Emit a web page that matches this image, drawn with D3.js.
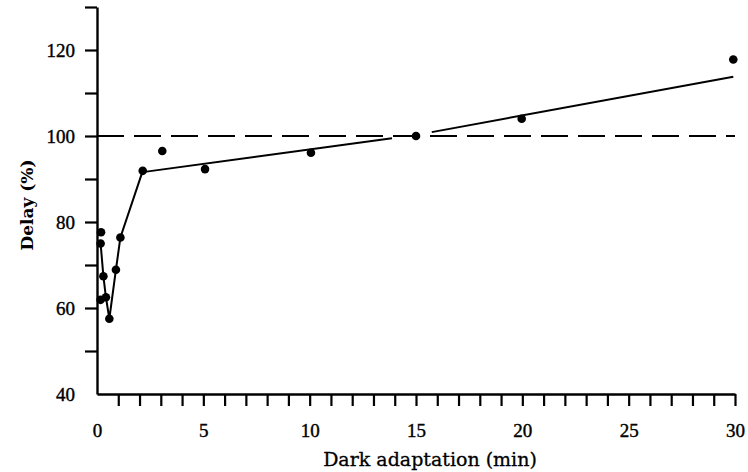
<!DOCTYPE html>
<html>
<head>
<meta charset="utf-8">
<script src="https://cdn.jsdelivr.net/npm/d3@7"></script>
<style>
  html, body { margin: 0; padding: 0; background: #fff; }
  svg { display: block; }
</style>
</head>
<body>
<svg id="chart" width="748" height="472"></svg>
<script>
// ---- data ----
const times  = [0.19, 0.17, 0.30, 0.17, 0.42, 0.58, 0.89, 1.10, 2.15, 3.07, 5.08, 10.06, 15.0, 19.97, 29.92];
const delays = [77.6, 75.0, 67.4, 61.9, 62.5, 57.5, 68.9, 76.4, 91.9, 96.5, 92.3, 96.1, 100.0, 104.0, 117.8];
// early points joined by a line (indices into the arrays above)
const joinedIdx = [1, 2, 4, 5, 6, 7, 8];
// fitted straight lines [time, delay]
const fitLine1 = [[2.15, 91.6], [13.87, 99.5]];
const fitLine2 = [[15.74, 100.9], [29.92, 113.8]];
const referenceLevel = 100;
const xTicks = d3.range(0, 31, 1);
const xTickLabels = [0, 5, 10, 15, 20, 25, 30];
const yTicks = d3.range(40, 131, 10);
const yTickLabels = [40, 60, 80, 100, 120];
const xTitle = "Dark adaptation (min)";
const yTitle = "Delay (%)";

// ---- layout ----
const svg = d3.select("#chart");
const x = d3.scaleLinear().domain([0, 30]).range([97, 735]);
const y = d3.scaleLinear().domain([40, 130]).range([394, 7]);
const ink = "#000";

// ---- axes ----
const gx = svg.append("g").attr("transform", `translate(0,${y(40)})`)
  .call(d3.axisBottom(x).tickValues(xTicks).tickSize(12).tickPadding(18).tickSizeOuter(0)
    .tickFormat(d => xTickLabels.includes(d) ? d : ""));
const gy = svg.append("g").attr("transform", `translate(${x(0)},0)`)
  .call(d3.axisLeft(y).tickValues(yTicks).tickSize(12).tickPadding(10).tickSizeOuter(0)
    .tickFormat(d => yTickLabels.includes(d) ? d : ""));

[gx, gy].forEach(g => {
  g.select(".domain").attr("stroke", ink).attr("stroke-width", 2.4);
  g.selectAll(".tick line").attr("stroke", ink).attr("stroke-width", 2.2);
  g.selectAll(".tick text").attr("fill", ink)
    .attr("stroke", ink).attr("stroke-width", 0.4)
    .style("font-family", "'Liberation Serif', 'Times New Roman', serif")
    .style("font-size", "19px");
});
gx.selectAll(".tick").filter(d => d === 0).select("line").remove();
gy.selectAll(".tick").filter(d => d === 40).select("line").remove();

// ---- axis titles ----
svg.append("text")
  .attr("x", 430).attr("y", 466)
  .attr("text-anchor", "middle")
  .style("font-family", "'DejaVu Serif', serif")
  .style("font-size", "19px")
  .attr("fill", ink).attr("stroke", ink).attr("stroke-width", 0.3)
  .text(xTitle);

svg.append("text")
  .attr("transform", "translate(33,205) rotate(-90)")
  .attr("text-anchor", "middle")
  .style("font-family", "'DejaVu Serif', serif")
  .style("font-weight", "bold")
  .style("font-size", "17px")
  .attr("fill", ink)
  .text(yTitle);

// ---- reference dashed line ----
svg.append("line")
  .attr("x1", x(0)).attr("x2", x(30))
  .attr("y1", y(referenceLevel)).attr("y2", y(referenceLevel))
  .attr("stroke", ink).attr("stroke-width", 2.2)
  .attr("stroke-dasharray", "27,10");

// ---- lines ----
const line = d3.line().x(d => x(d[0])).y(d => y(d[1]));
const joined = joinedIdx.map(i => [times[i], delays[i]]);
svg.append("path").datum(joined).attr("d", line)
  .attr("fill", "none").attr("stroke", ink).attr("stroke-width", 2);
[fitLine1, fitLine2].forEach(seg => {
  svg.append("path").datum(seg).attr("d", line)
    .attr("fill", "none").attr("stroke", ink).attr("stroke-width", 2);
});

// ---- points ----
svg.append("g").selectAll("circle")
  .data(times.map((t, i) => [t, delays[i]]))
  .join("circle")
  .attr("cx", d => x(d[0])).attr("cy", d => y(d[1]))
  .attr("r", 4.3).attr("fill", ink);
</script>
</body>
</html>
